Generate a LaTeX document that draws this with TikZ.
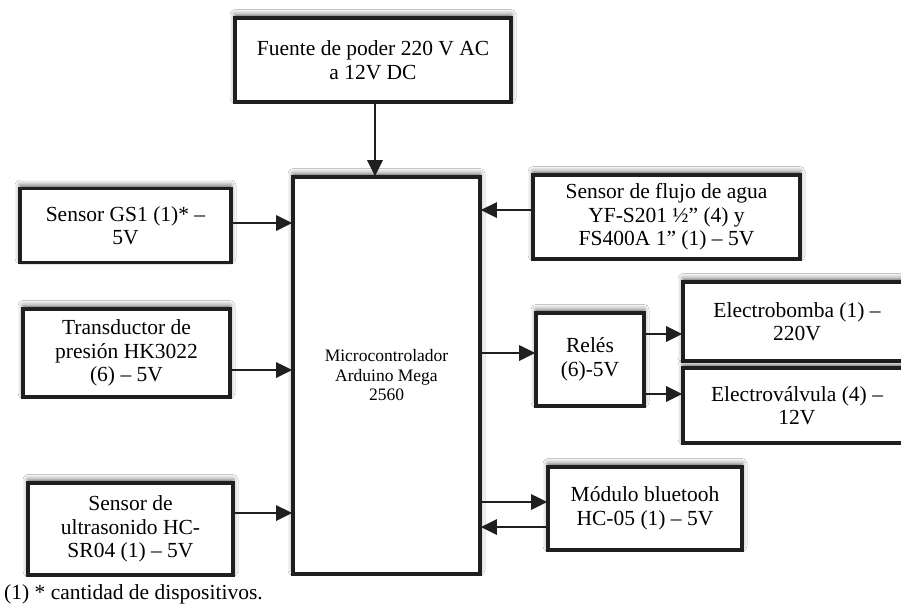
\documentclass[tikz,border=0pt]{standalone}
\usepackage{fontspec}
\setmainfont{Liberation Serif}
\usetikzlibrary{arrows.meta,shadows.blur}
\tikzset{
  box/.style={draw=black!88, line width=3.6pt, fill=white, align=center, inner sep=2pt,
    font=\fontsize{21.5}{23.5}\selectfont,
    blur shadow={shadow xshift=0pt, shadow yshift=3.5pt, shadow blur radius=5pt, shadow opacity=60}},
  arr/.style={draw=black!88, line width=2.8pt, -{Triangle[length=16pt,width=15pt]}, shorten >=-1pt}
}
\begin{document}
\begin{tikzpicture}[x=1pt,y=-1pt]
\clip (0,0) rectangle (901,606);
\fill[white] (0,0) rectangle (901,606);
\node[box, minimum width=276pt, minimum height=84pt] (fuente) at (373,60) {Fuente de poder 220 V AC\\a 12V DC};
\node[box, minimum width=187pt, minimum height=397pt, font=\fontsize{17.5}{19.5}\selectfont] (micro) at (386.5,375.5) {Microcontrolador\\Arduino Mega\\2560};
\node[box, minimum width=211pt, minimum height=74pt] (gs1) at (125.5,225.5) {Sensor GS1 (1)* –\\5V};
\node[box, minimum width=267pt, minimum height=84pt] (flujo) at (666.5,217) {Sensor de flujo de agua\\YF-S201 ½” (4) y\\FS400A 1” (1) – 5V};
\node[box, minimum width=207pt, minimum height=88pt] (trans) at (126.5,353) {Transductor de\\presión HK3022\\(6) – 5V};
\node[box, minimum width=205pt, minimum height=92pt] (ultra) at (130.5,529) {Sensor de\\ultrasonido HC-\\SR04 (1) – 5V};
\node[box, minimum width=108pt, minimum height=93pt] (reles) at (590,359.5) {Relés\\(6)-5V};
\node[box, minimum width=228pt, minimum height=79pt] (ebomba) at (797,321.5) {Electrobomba (1) –\\220V};
\node[box, minimum width=228pt, minimum height=75pt] (evalv) at (797,405.5) {Electroválvula (4) –\\12V};
\node[box, minimum width=194pt, minimum height=83pt] (bt) at (645,508.5) {Módulo bluetooh\\HC-05 (1) – 5V};
\node[anchor=north west, inner sep=0pt, font=\fontsize{21.5}{23.5}\selectfont] (nota) at (4,584) {(1) * cantidad de dispositivos.};

\draw[arr] (fuente.south -| 375,0) -- (micro.north -| 375,0);
\draw[arr] (gs1.east |- 0,223) -- (micro.west |- 0,223);
\draw[arr] (flujo.west |- 0,210) -- (micro.east |- 0,210);
\draw[arr] (trans.east |- 0,370) -- (micro.west |- 0,370);
\draw[arr] (ultra.east |- 0,513) -- (micro.west |- 0,513);
\draw[arr] (micro.east |- 0,353) -- (reles.west |- 0,353);
\draw[arr] (reles.east |- 0,334) -- (ebomba.west |- 0,334);
\draw[arr] (reles.east |- 0,394) -- (evalv.west |- 0,394);
\draw[arr] (micro.east |- 0,502) -- (bt.west |- 0,502);
\draw[arr] (bt.west |- 0,527) -- (micro.east |- 0,527);
\end{tikzpicture}
\end{document}
